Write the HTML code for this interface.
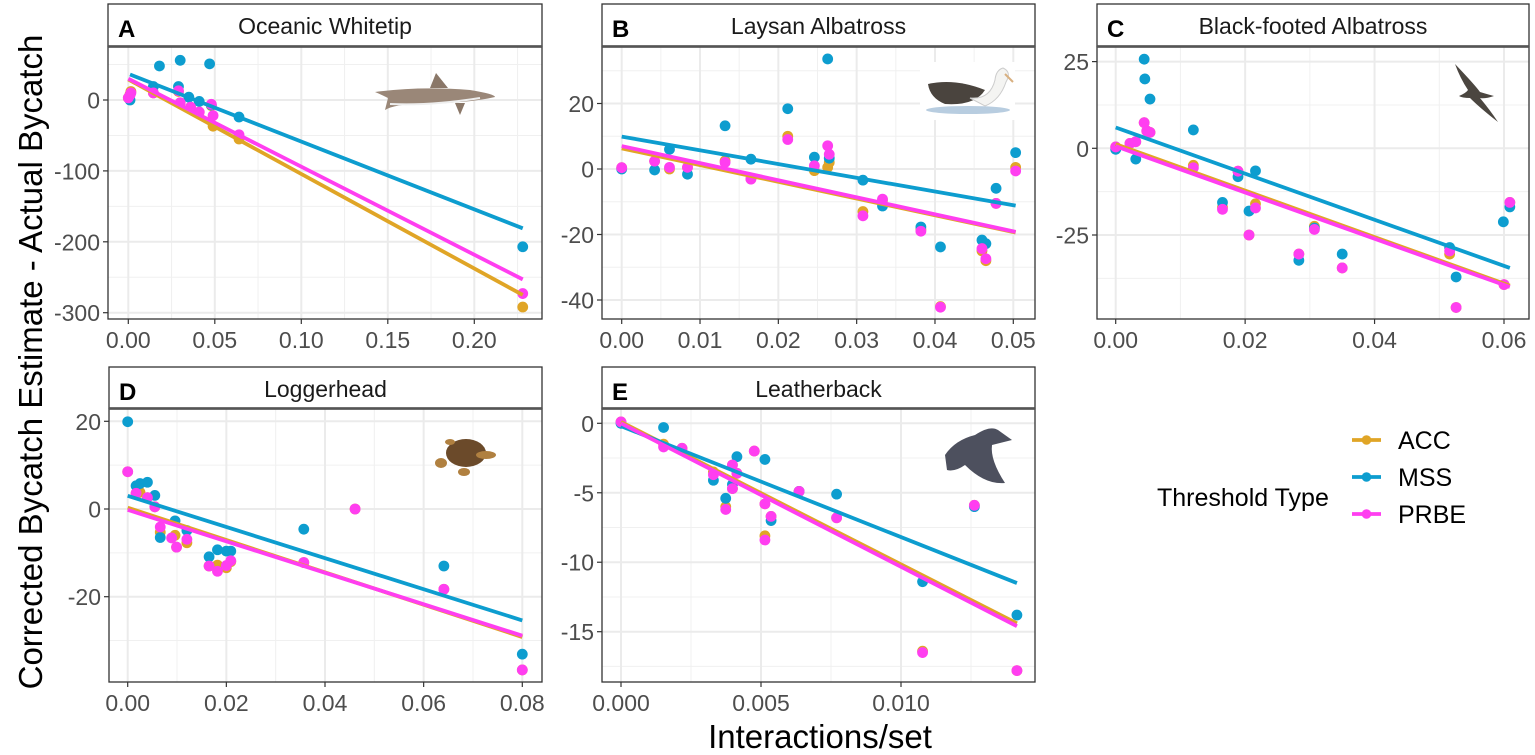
<!DOCTYPE html>
<html><head><meta charset="utf-8"><style>
body{margin:0;background:#fff;}
svg{display:block;font-family:"Liberation Sans",Arial,sans-serif;}
</style></head><body>
<svg id="chart" width="1535" height="755" viewBox="0 0 1535 755"></svg>
<script>
// ---- data: [interactions/set, corrected - actual bycatch] ----
const A_acc=[[0,3],[0.001,8],[0.0015,12],[0.0145,10],[0.029,12],[0.03,-4],[0.036,-10],[0.041,-17],[0.048,-8],[0.049,-37],[0.064,-55],[0.228,-292]];
const A_mss=[[0.001,0],[0.0145,19],[0.018,48],[0.030,56],[0.047,51],[0.029,19],[0.035,4],[0.041,-2],[0.048,-7],[0.064,-24],[0.228,-207]];
const A_prbe=[[0,3],[0.001,7],[0.0015,10],[0.0145,10],[0.029,13],[0.03,-4],[0.036,-10],[0.041,-17],[0.048,-6],[0.049,-22],[0.064,-49],[0.228,-273]];
const A_fit_acc=[29,-275], A_fit_mss=[36,-181], A_fit_prbe=[30,-253];

const B_acc=[[0,0.4],[0.0042,2.4],[0.0061,0],[0.0084,0.5],[0.0132,2.5],[0.0165,-3],[0.0212,10],[0.0246,-0.5],[0.0263,0.5],[0.0265,2],[0.0308,-13],[0.0333,-9.5],[0.0382,-18.5],[0.0407,-42],[0.046,-25],[0.0465,-28],[0.0478,-10.5],[0.0503,0.5]];
const B_mss=[[0,0],[0.0042,-0.3],[0.0061,6],[0.0084,-1.6],[0.0132,13.2],[0.0165,3],[0.0212,18.4],[0.0246,3.6],[0.0263,33.6],[0.0265,3.3],[0.0308,-3.4],[0.0333,-11.3],[0.0382,-17.7],[0.0407,-23.8],[0.046,-21.7],[0.0465,-22.8],[0.0478,-5.9],[0.0503,5]];
const B_prbe=[[0,0.4],[0.0042,2.4],[0.0061,0.5],[0.0084,0.5],[0.0132,2],[0.0165,-3.1],[0.0212,9],[0.0246,1],[0.0263,7.1],[0.0265,4.5],[0.0308,-14.3],[0.0333,-9.2],[0.0382,-19],[0.0407,-42.2],[0.046,-24.3],[0.0465,-27.4],[0.0478,-10.5],[0.0503,-0.6]];
const B_fit_acc=[6.3,-19.4], B_fit_mss=[9.9,-11.2], B_fit_prbe=[7.0,-19.2];

const C_acc=[[0,0.4],[0.0022,1.4],[0.0031,1.9],[0.0044,7.4],[0.0048,5],[0.0053,4.6],[0.012,-4.9],[0.0165,-17],[0.0189,-6.6],[0.0206,-25],[0.0216,-16],[0.0283,-30.5],[0.0307,-22.5],[0.035,-34.5],[0.0516,-30.5],[0.0526,-45.9],[0.06,-39.3],[0.0609,-15.6]];
const C_mss=[[0,-0.3],[0.0031,-3.1],[0.0044,25.7],[0.0045,20],[0.0053,14.2],[0.012,5.3],[0.0165,-15.6],[0.0189,-8.2],[0.0206,-18.1],[0.0216,-6.5],[0.0283,-32.3],[0.0307,-23],[0.035,-30.5],[0.0516,-28.6],[0.0526,-37.1],[0.0599,-21.2],[0.0609,-16.9]];
const C_prbe=[[0,0.4],[0.0022,1.4],[0.0031,1.9],[0.0044,7.4],[0.0048,5],[0.0053,4.6],[0.012,-5.6],[0.0165,-17.6],[0.0189,-6.6],[0.0206,-25],[0.0216,-17.2],[0.0283,-30.5],[0.0307,-23.4],[0.035,-34.5],[0.0516,-29.6],[0.0526,-45.9],[0.06,-39.3],[0.0609,-15.6]];
const C_fit_acc=[1.2,-39.6], C_fit_mss=[6.0,-34.5], C_fit_prbe=[0.6,-40];

const D_acc=[[0,8.5],[0.0017,3.6],[0.0025,3.8],[0.004,2.6],[0.0055,0.5],[0.0066,-5.3],[0.0096,-6],[0.0099,-8.7],[0.012,-7.7],[0.0165,-13],[0.0182,-12.8],[0.02,-13.4],[0.0209,-12],[0.0357,-12.2],[0.0461,0],[0.0641,-18.3],[0.08,-36.7]];
const D_mss=[[0,19.9],[0.0017,5.3],[0.0025,5.8],[0.004,6.1],[0.0055,3.1],[0.0066,-6.5],[0.0096,-2.7],[0.012,-4.9],[0.0165,-10.9],[0.0182,-9.3],[0.02,-9.6],[0.0209,-9.6],[0.0357,-4.6],[0.0641,-13],[0.08,-33.1]];
const D_prbe=[[0,8.5],[0.0017,3.6],[0.004,2.6],[0.0055,0.5],[0.0066,-4.1],[0.0089,-6.6],[0.0099,-8.7],[0.012,-6.9],[0.0165,-13],[0.0182,-14.2],[0.02,-12.9],[0.0209,-11.8],[0.0357,-12.2],[0.0461,0],[0.0641,-18.3],[0.08,-36.7]];
const D_fit_acc=[0.3,-29.2], D_fit_mss=[3.0,-25.4], D_fit_prbe=[-0.2,-28.9];

const E_acc=[[0,0.1],[0.00152,-1.5],[0.00218,-1.8],[0.0033,-3.5],[0.00374,-6],[0.00398,-3],[0.00398,-4.7],[0.00414,-3.6],[0.00476,-2],[0.00514,-5.8],[0.00514,-8.1],[0.00536,-6.7],[0.00636,-4.9],[0.0077,-6.8],[0.01077,-16.4],[0.01262,-5.9],[0.01414,-17.8]];
const E_mss=[[0,0],[0.00152,-0.3],[0.0033,-4.1],[0.00374,-5.4],[0.00398,-4.4],[0.00414,-2.4],[0.00514,-2.6],[0.00536,-7.0],[0.00636,-4.9],[0.0077,-5.1],[0.01077,-11.4],[0.01262,-6.0],[0.01414,-13.8]];
const E_prbe=[[0,0.1],[0.00152,-1.7],[0.00218,-1.8],[0.0033,-3.7],[0.00374,-6.2],[0.00398,-3.0],[0.00398,-4.7],[0.00414,-3.6],[0.00476,-2.0],[0.00514,-5.8],[0.00514,-8.4],[0.00536,-6.7],[0.00636,-4.9],[0.0077,-6.8],[0.01077,-16.5],[0.01262,-5.9],[0.01414,-17.8]];
const E_fit_acc=[0.1,-14.4], E_fit_mss=[-0.2,-11.5], E_fit_prbe=[0.0,-14.6];

const A_xticks=[0,0.05,0.1,0.15,0.2], A_xlabels=["0.00","0.05","0.10","0.15","0.20"], A_yticks=[0,-100,-200,-300];
const B_xticks=[0,0.01,0.02,0.03,0.04,0.05], B_xlabels=["0.00","0.01","0.02","0.03","0.04","0.05"], B_yticks=[20,0,-20,-40];
const C_xticks=[0,0.02,0.04,0.06], C_xlabels=["0.00","0.02","0.04","0.06"], C_yticks=[25,0,-25];
const D_xticks=[0,0.02,0.04,0.06,0.08], D_xlabels=["0.00","0.02","0.04","0.06","0.08"], D_yticks=[20,0,-20];
const E_xticks=[0,0.005,0.01], E_xlabels=["0.000","0.005","0.010"], E_yticks=[0,-5,-10,-15];

const COLORS={acc:"#E0A526",mss:"#0D9DCF",prbe:"#FF3EF0"};
const NS="http://www.w3.org/2000/svg";
const svg=document.getElementById('chart');
function mk(tag,attrs,parent){const e=document.createElementNS(NS,tag);for(const k in attrs)e.setAttribute(k,attrs[k]);(parent||svg).appendChild(e);return e;}

const panels=[
 {id:"A",title:"Oceanic Whitetip",box:[108,47,542,319],strip:4,xc:[0,128.3,0.2,474.3],yc:[0,100,-300,312.7],xt:A_xticks,xl:A_xlabels,yt:A_yticks,acc:A_acc,mss:A_mss,prbe:A_prbe,fa:A_fit_acc,fm:A_fit_mss,fp:A_fit_prbe,animal:"shark"},
 {id:"B",title:"Laysan Albatross",box:[602,47,1035,319],strip:4,xc:[0,621.7,0.05,1013.3],yc:[0,169,-40,300],xt:B_xticks,xl:B_xlabels,yt:B_yticks,acc:B_acc,mss:B_mss,prbe:B_prbe,fa:B_fit_acc,fm:B_fit_mss,fp:B_fit_prbe,animal:"albatross"},
 {id:"C",title:"Black-footed Albatross",box:[1097,47,1529,319],strip:4,xc:[0,1115.7,0.06,1504],yc:[0,148.3,-25,235],xt:C_xticks,xl:C_xlabels,yt:C_yticks,acc:C_acc,mss:C_mss,prbe:C_prbe,fa:C_fit_acc,fm:C_fit_mss,fp:C_fit_prbe,animal:"bird"},
 {id:"D",title:"Loggerhead",box:[109,409,542,682],strip:367,xc:[0,127.7,0.08,522.3],yc:[0,509,-20,596.7],xt:D_xticks,xl:D_xlabels,yt:D_yticks,acc:D_acc,mss:D_mss,prbe:D_prbe,fa:D_fit_acc,fm:D_fit_mss,fp:D_fit_prbe,animal:"turtle"},
 {id:"E",title:"Leatherback",box:[602,409,1035,682],strip:367,xc:[0,621,0.01,901],yc:[0,423.3,-15,631.7],xt:E_xticks,xl:E_xlabels,yt:E_yticks,acc:E_acc,mss:E_mss,prbe:E_prbe,fa:E_fit_acc,fm:E_fit_mss,fp:E_fit_prbe,animal:"leatherback"}
];

panels.forEach(p=>{
 const [L,T,R,B]=p.box;
 const sx=v=>p.xc[1]+(v-p.xc[0])*(p.xc[3]-p.xc[1])/(p.xc[2]-p.xc[0]);
 const sy=v=>p.yc[1]+(v-p.yc[0])*(p.yc[3]-p.yc[1])/(p.yc[2]-p.yc[0]);
 const g=mk('g',{});
 
 
 const xs=p.xt[1]-p.xt[0], ys=p.yt[1]-p.yt[0];
 for(let v=p.xt[0]-xs/2;v<=p.xt[p.xt.length-1]+xs;v+=xs){const x=sx(v);if(x>L&&x<R)mk('line',{x1:x,x2:x,y1:T,y2:B,stroke:"#f0f0f0","stroke-width":1},g);}
 for(let i=-1;i<=p.yt.length;i++){const v=p.yt[0]+ys*(i+0.5);const y=sy(v);if(y>T&&y<B)mk('line',{x1:L,x2:R,y1:y,y2:y,stroke:"#f0f0f0","stroke-width":1},g);}
 p.xt.forEach(v=>{const x=sx(v);mk('line',{x1:x,x2:x,y1:T,y2:B,stroke:"#ebebeb","stroke-width":2},g);});
 p.yt.forEach(v=>{const y=sy(v);mk('line',{x1:L,x2:R,y1:y,y2:y,stroke:"#ebebeb","stroke-width":2},g);});
 drawAnimal(p.animal,g);
 ["acc","mss","prbe"].forEach(s=>{
  p[s].forEach(d=>{
   const c=mk('circle',{cx:sx(d[0]),cy:sy(d[1]),r:5.4,fill:COLORS[s]},g);
   
   
  });
 });
 [["acc",p.fa],["mss",p.fm],["prbe",p.fp]].forEach(([s,f])=>{
  const xsA=p[s].map(d=>d[0]);const x0=Math.min(...xsA),x1=Math.max(...xsA);
  const ln=mk('line',{x1:sx(x0),y1:sy(f[0]),x2:sx(x1),y2:sy(f[1]),stroke:COLORS[s],"stroke-width":3.8},g);
  
  
 });
 mk('rect',{x:L,y:T,width:R-L,height:B-T,fill:"none",stroke:"#333","stroke-width":1.3},g);
 const st=mk('rect',{x:L,y:p.strip,width:R-L,height:T-p.strip-1,fill:"#fff",stroke:"#333","stroke-width":1.3},g);
 
 
 mk('line',{x1:L,x2:R,y1:T-0.5,y2:T-0.5,stroke:"#555","stroke-width":2.5},g);
 const lt=mk('text',{x:L+10,y:p.strip+33,"font-size":24,"font-weight":"bold",fill:"#000"},g);lt.textContent=p.id;
 
 
 const tt=mk('text',{x:(L+R)/2,y:p.strip+30,"font-size":23,"text-anchor":"middle",fill:"#1a1a1a"},g);tt.textContent=p.title;
 
 
 p.xt.forEach((v,i)=>{const x=sx(v);mk('line',{x1:x,x2:x,y1:B,y2:B+5,stroke:"#333","stroke-width":1.2},g);
  const t=mk('text',{x:x,y:B+29,"font-size":23,"text-anchor":"middle",fill:"#4d4d4d"},g);t.textContent=p.xl[i];
  
  });
 p.yt.forEach(v=>{const y=sy(v);mk('line',{x1:L-5,x2:L,y1:y,y2:y,stroke:"#333","stroke-width":1.2},g);
  const t=mk('text',{x:L-8,y:y+8.5,"font-size":23,"text-anchor":"end",fill:"#4d4d4d"},g);t.textContent=String(v);
  
  });
});

function drawAnimal(kind,g){
 const a=mk('g',{},g);
 
 
 if(kind==="shark"){
  mk('path',{d:"M375,92 Q420,86 470,90 Q495,94 495,97 Q470,103 420,104 Q395,104 385,110 L388,98 Q380,94 375,92Z",fill:"#9a8778"},a);
  mk('path',{d:"M430,88 L436,73 L448,88Z",fill:"#8a7768"},a);
  mk('path',{d:"M455,103 L460,115 L465,103Z",fill:"#8a7768"},a);
  mk('path',{d:"M390,104 Q430,106 480,98",stroke:"#eee",fill:"none","stroke-width":2},a);
 } else if(kind==="albatross"){
  mk('rect',{x:920,y:62,width:95,height:58,fill:"#fff"},a);
  mk('ellipse',{cx:968,cy:110,rx:42,ry:4,fill:"#b8cde0"},a);
  mk('path',{d:"M928,84 Q955,78 985,90 Q975,106 945,104 Q930,98 928,84Z",fill:"#4a443e"},a);
  mk('path',{d:"M970,98 Q990,100 995,80 Q996,70 1003,68 Q1012,72 1006,82 Q1000,100 985,106Z",fill:"#f4f4f2",stroke:"#ccc"},a);
  mk('path',{d:"M1005,74 L1013,82",stroke:"#d8b080","stroke-width":2},a);
 } else if(kind==="bird"){
  mk('path',{d:"M1455,64 Q1475,85 1480,92 Q1490,95 1494,96 Q1485,99 1480,98 Q1490,110 1498,122 Q1480,108 1470,98 Q1462,98 1459,96 Q1466,93 1468,90 Q1460,78 1455,64Z",fill:"#4b4640"},a);
 } else if(kind==="turtle"){
  mk('ellipse',{cx:466,cy:453,rx:20,ry:14,fill:"#6b4a2a"},a);
  mk('ellipse',{cx:441,cy:463,rx:6,ry:5,fill:"#b08040"},a);
  mk('ellipse',{cx:486,cy:455,rx:10,ry:4,fill:"#b08040"},a);
  mk('ellipse',{cx:464,cy:472,rx:6,ry:4,fill:"#b08040"},a);
  mk('ellipse',{cx:450,cy:442,rx:5,ry:3,fill:"#b08040"},a);
 } else if(kind==="leatherback"){
  mk('path',{d:"M945,455 Q955,440 975,435 Q990,425 998,430 Q1005,435 1012,440 Q1000,443 992,445 Q990,460 1005,483 Q985,485 965,465 Q955,472 947,470 Z",fill:"#4d505e"},a);
 }
}

let t=mk('text',{x:820,y:748,"font-size":33,"text-anchor":"middle",fill:"#000"});t.textContent="Interactions/set";


t=mk('text',{x:0,y:0,"font-size":33,"text-anchor":"middle",fill:"#000",transform:"translate(42,362) rotate(-90)"});t.textContent="Corrected Bycatch Estimate - Actual Bycatch";



const lg=mk('g',{});


t=mk('text',{x:1157,y:506,"font-size":25,fill:"#000"},lg);t.textContent="Threshold Type";


[["acc","ACC",440],["mss","MSS",477],["prbe","PRBE",514]].forEach(([s,lab,y])=>{
 const e=mk('g',{},lg);
 
 
 mk('line',{x1:1352,x2:1381,y1:y,y2:y,stroke:COLORS[s],"stroke-width":3.8},e);
 mk('circle',{cx:1366.5,cy:y,r:4.8,fill:COLORS[s]},e);
 const tx=mk('text',{x:1398,y:y+9,"font-size":25,fill:"#000"},e);tx.textContent=lab;
});
</script>
</body></html>
